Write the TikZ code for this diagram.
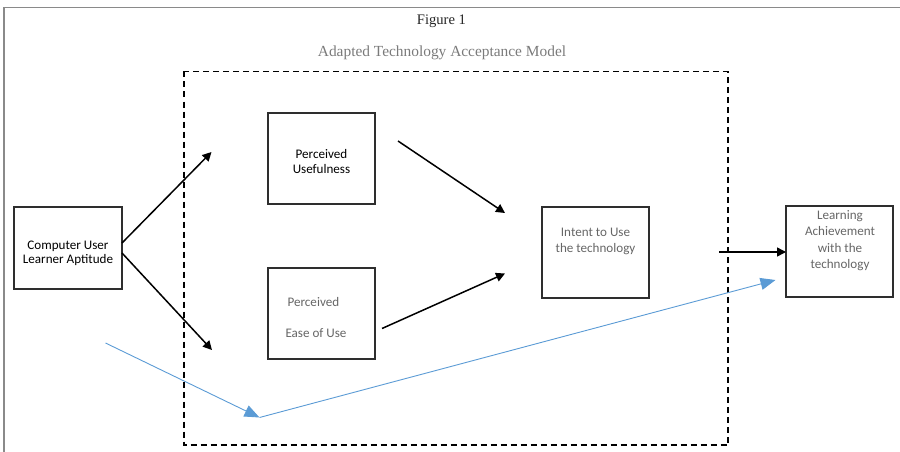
\documentclass[tikz,border=0pt]{standalone}
\usepackage{fontspec}
\setmainfont{Liberation Serif}
\newfontfamily\boxfont{Carlito}
\usetikzlibrary{arrows.meta}
\definecolor{framegrey}{HTML}{8A8A8A}
\definecolor{titlegrey}{HTML}{7A7A7A}
\definecolor{textgrey}{HTML}{666666}
\definecolor{boxline}{HTML}{2E2E2E}
\definecolor{pathblue}{HTML}{5B9BD5}
\tikzset{
  stagebox/.style={draw=boxline, line width=1.3pt, minimum width=#1, inner sep=0pt},
  boxlabel/.style={font=\boxfont\fontsize{13.1}{15.5}\selectfont, align=center, inner sep=0pt},
  flow/.style={draw=black, line width=1.5pt, -{Triangle[length=9pt,width=9pt]}},
  bluepath/.style={draw=pathblue, line width=0.9pt},
  bluetip/.style={bluepath, -{Triangle[length=15pt,width=12pt]}},
}
\begin{document}
\begin{tikzpicture}[x=1pt,y=-1pt]
\useasboundingbox (0,0) rectangle (900,452);

% outer page frame (top and left edges only)
\draw[framegrey, line width=1.4pt] (900,7.5) -- (4,7.5) -- (4,452);

% headings
\node[font=\fontsize{14.6}{16}\selectfont, text=black!85] (fig) at (441.5,21) {Figure 1};
\node[font=\fontsize{15.4}{17}\selectfont, text=titlegrey] (model) at (442,53) {Adapted Technology Acceptance Model};

% dashed boundary of the acceptance model
\draw[black, line width=1.3pt, dash pattern=on 6pt off 4pt] (184,71.5) rectangle (728,445);

% boxes
\node[stagebox=108pt, minimum height=82pt] (aptitude) at (68,248) {};
\node[boxlabel, font=\boxfont\fontsize{13.1}{14}\selectfont] (aptitudetext) at (68,253) {Computer User\\Learner Aptitude};

\node[stagebox=107pt, minimum height=91pt] (useful) at (321.5,158.5) {};
\node[boxlabel, font=\boxfont\fontsize{13.1}{15}\selectfont] (usefultext) at (321.5,161.5) {Perceived\\Usefulness};

\node[stagebox=107pt, minimum height=91pt] (ease) at (321.5,313.5) {};
\node[boxlabel, text=textgrey, align=left, font=\boxfont\fontsize{13.1}{31}\selectfont] (easetext) at (316,317.5) {\hspace{2pt}Perceived\\Ease of Use};

\node[stagebox=107pt, minimum height=91pt] (intent) at (595.5,252.5) {};
\node[boxlabel, text=textgrey, font=\boxfont\fontsize{13.1}{16}\selectfont] (intenttext) at (595.5,241) {Intent to Use\\the technology};

\node[stagebox=107pt, minimum height=91pt] (achieve) at (839.5,251.5) {};
\node[boxlabel, text=textgrey, font=\boxfont\fontsize{13.1}{16.4}\selectfont] (achievetext) at (840,240.5) {Learning\\Achievement\\with the\\technology};

% free arrow ends
\coordinate (a1s) at (122,243);  \coordinate (a1e) at (211.5,152);
\coordinate (a2s) at (122,253);  \coordinate (a2e) at (212,350);
\coordinate (a3s) at (398,141);  \coordinate (a3e) at (505,213);
\coordinate (a4s) at (382,328.5);\coordinate (a4e) at (505,273.5);
\coordinate (a5s) at (719,252);  \coordinate (a5e) at (786,252);
\coordinate (b1)  at (105.5,343);\coordinate (b2)  at (259.5,417.5);
\coordinate (b3)  at (775.5,280);

% influence arrows
\draw[flow] (a1s) -- (a1e);
\draw[flow] (a2s) -- (a2e);
\draw[flow] (a3s) -- (a3e);
\draw[flow] (a4s) -- (a4e);
\draw[flow] (a5s) -- (a5e);

% direct path from aptitude to achievement
\draw[bluetip] (b1) -- (b2);
\draw[bluetip] (b2) -- (b3);
\end{tikzpicture}
\end{document}
